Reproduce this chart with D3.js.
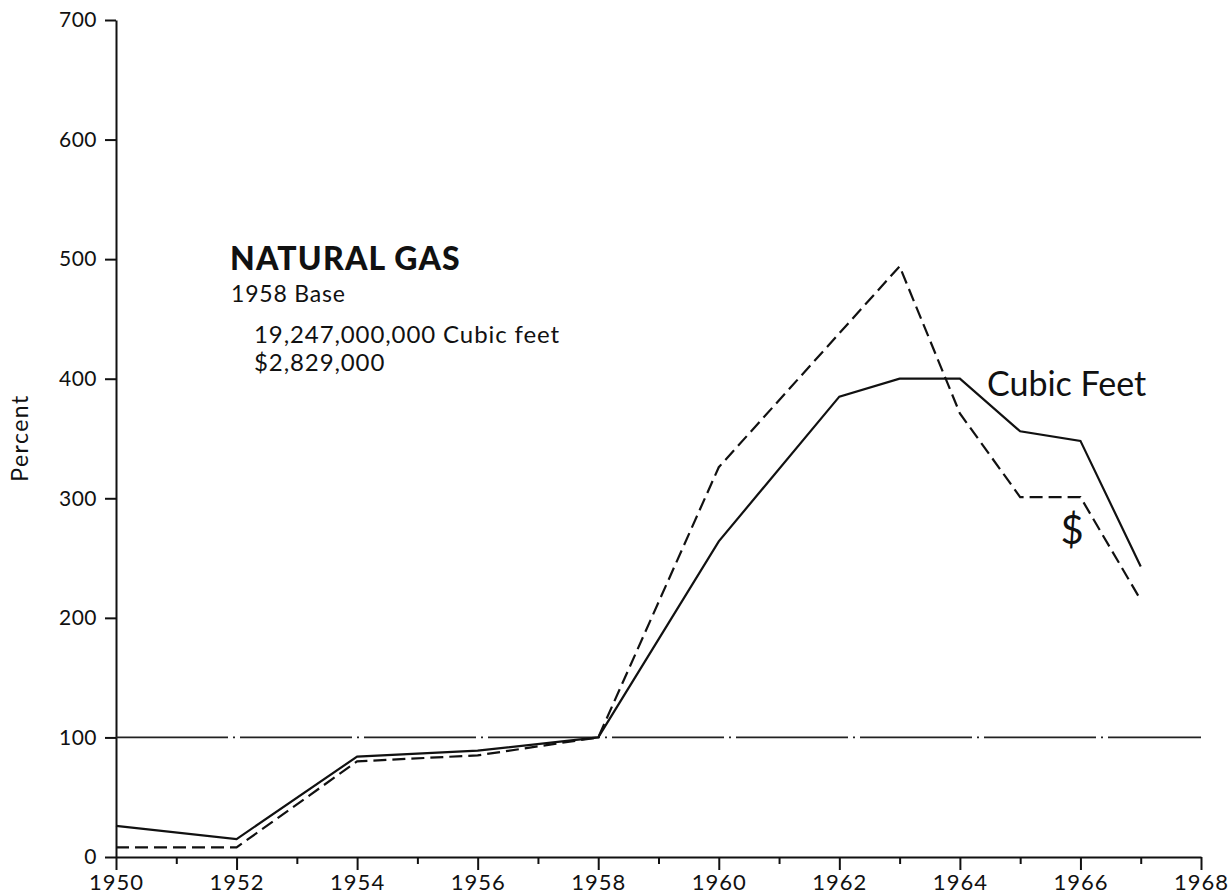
<!DOCTYPE html>
<html>
<head>
<meta charset="utf-8">
<script src="https://cdn.jsdelivr.net/npm/d3@7"></script>
<style>
  body { margin: 0; background: #fff; }
  svg text { font-family: Lato, "Open Sans", sans-serif; fill: #111; }
  .axis path, .axis line { stroke: #111; stroke-width: 2; }
</style>
</head>
<body>
<svg id="chart" width="1228" height="896"></svg>
<script>
// values (percent of 1958)
const years = [1950, 1952, 1954, 1956, 1958, 1960, 1962, 1963, 1964, 1965, 1966, 1967];
const cubicFeet = [26, 15, 84, 89, 100, 264, 385, 400, 400, 356, 348, 243];
const dollars = [8, 8, 80, 85, 100, 326, 438, 494, 371, 301, 301, 215];
const majorYears = [1950, 1952, 1954, 1956, 1958, 1960, 1962, 1964, 1966, 1968];
const minorYears = [1951, 1953, 1955, 1957, 1959, 1961, 1963, 1965, 1967];
const yTicks = [0, 100, 200, 300, 400, 500, 600, 700];
const baseValue = 100;

const margin = { top: 20, left: 116, right: 27, bottom: 39 };
const width = 1228 - margin.left - margin.right;
const height = 896 - margin.top - margin.bottom;

const svg = d3.select("#chart");
const g = svg.append("g").attr("transform", `translate(${margin.left},${margin.top})`);

const x = d3.scaleLinear().domain([1950, 1968]).range([0, width]);
const y = d3.scaleLinear().domain([0, 700]).range([height, 0]);

// y axis
const yAxis = g.append("g").attr("class", "axis")
  .call(d3.axisLeft(y).tickValues(yTicks).tickSize(11).tickSizeOuter(0).tickPadding(8));
yAxis.selectAll("text").style("font-size", "21px").style("letter-spacing", "0.5px");

// x axis, labelled majors and short minors
const xAxis = g.append("g").attr("class", "axis")
  .attr("transform", `translate(0,${height})`)
  .call(d3.axisBottom(x).tickValues(majorYears).tickFormat(d3.format("d")).tickSize(13).tickSizeOuter(0).tickPadding(4));
xAxis.selectAll("text").style("font-size", "22px").style("letter-spacing", "1px");

g.append("g").attr("class", "axis")
  .attr("transform", `translate(0,${height})`)
  .call(d3.axisBottom(x).tickValues(minorYears).tickFormat("").tickSize(7).tickSizeOuter(0))
  .select(".domain").remove();

// 1958 base line (dash-dot)
g.append("line")
  .attr("x1", x(1950)).attr("x2", x(1968))
  .attr("y1", y(baseValue)).attr("y2", y(baseValue))
  .attr("stroke", "#222").attr("stroke-width", 1.7)
  .attr("stroke-dasharray", "112,5,2,5");

const line = d3.line().x((d, i) => x(years[i])).y(d => y(d));

g.append("path").datum(cubicFeet)
  .attr("d", line).attr("fill", "none")
  .attr("stroke", "#111").attr("stroke-width", 2.2);

g.append("path").datum(dollars)
  .attr("d", line).attr("fill", "none")
  .attr("stroke", "#111").attr("stroke-width", 2.2)
  .attr("stroke-dasharray", "13,6");

// labels
svg.append("text").attr("x", 230).attr("y", 270)
  .style("font-size", "32px").style("font-weight", 900).style("letter-spacing", "1.2px").text("NATURAL GAS");
svg.append("text").attr("x", 231).attr("y", 302)
  .style("font-size", "23px").style("letter-spacing", "0.8px").text("1958 Base");
svg.append("text").attr("x", 254).attr("y", 343)
  .style("font-size", "24px").style("letter-spacing", "0.9px").text("19,247,000,000 Cubic feet");
svg.append("text").attr("x", 254).attr("y", 371)
  .style("font-size", "24px").style("letter-spacing", "0.9px").text("$2,829,000");

svg.append("text").attr("x", 987).attr("y", 396)
  .style("font-size", "34px").text("Cubic Feet");
svg.append("text").attr("x", 1072).attr("y", 544)
  .attr("text-anchor", "middle")
  .style("font-size", "40px").text("$");

svg.append("text")
  .attr("transform", "translate(28,438) rotate(-90)")
  .attr("text-anchor", "middle")
  .style("font-size", "23px").style("letter-spacing", "1.5px").text("Percent");
</script>
</body>
</html>
